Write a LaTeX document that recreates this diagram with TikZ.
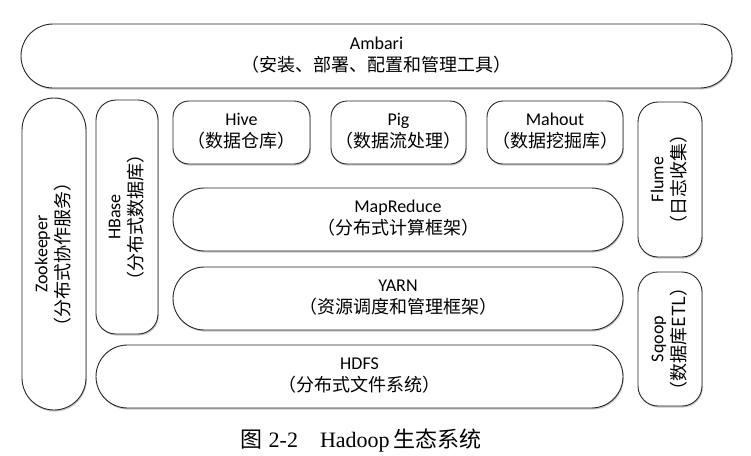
\documentclass[tikz,border=0pt]{standalone}
\usepackage{fontspec}
\setmainfont{Carlito}
\newfontfamily\cjk{Noto Sans CJK SC}
\newfontfamily\capserif{Liberation Serif}
\usetikzlibrary{shadows}
\newcommand\twoline[2]{\begin{tabular}{@{}c@{}}#1\\{\cjk #2}\end{tabular}}
\newcommand\vtwoline[2]{\rotatebox{90}{\twoline{#1}{#2}}}
\begin{document}
\begin{tikzpicture}[x=1pt,y=-1pt,
  box/.style={draw=black!85, line width=0.9pt, fill=white, align=center,
    inner sep=0pt, font=\fontsize{18}{22}\selectfont,
    drop shadow={shadow xshift=0.8pt, shadow yshift=-1.6pt, opacity=0.35, fill=black!60}},
  capnode/.style={inner sep=0pt, font=\fontsize{22}{24}\selectfont}]
\useasboundingbox (0,0) rectangle (751,455);
\fill[white] (0,0) rectangle (751,455);

\node[box, minimum width=711pt, minimum height=64pt, rounded corners=32pt] (ambari) at (376.5,56)
  {\twoline{Ambari}{（安装、部署、配置和管理工具）}};

\node[box, minimum width=64pt, minimum height=312pt, rounded corners=32pt] (zk) at (54,254)
  {\vtwoline{Zookeeper}{（分布式协作服务）}};

\node[box, minimum width=62pt, minimum height=234pt, rounded corners=20pt] (hbase) at (127,217)
  {\vtwoline{HBase}{（分布式数据库）}};

\node[box, minimum width=137pt, minimum height=63pt, rounded corners=16pt] (hive) at (241.5,132.5)
  {\twoline{Hive}{（数据仓库）}};
\node[box, minimum width=135pt, minimum height=63pt, rounded corners=16pt] (pig) at (398.5,132.5)
  {\twoline{Pig}{（数据流处理）}};
\node[box, minimum width=136pt, minimum height=63pt, rounded corners=16pt] (mahout) at (555,132.5)
  {\twoline{Mahout}{（数据挖掘库）}};

\node[box, minimum width=450pt, minimum height=63pt, rounded corners=31.5pt] (mr) at (398,219.5)
  {\twoline{MapReduce}{（分布式计算框架）}};
\node[box, minimum width=450pt, minimum height=63pt, rounded corners=31.5pt] (yarn) at (398,298.5)
  {\twoline{YARN}{（资源调度和管理框架）}};
\node[box, minimum width=527pt, minimum height=63pt, rounded corners=31.5pt] (hdfs) at (359.5,376.5)
  {\twoline{HDFS}{（分布式文件系统）}};

\node[box, minimum width=64pt, minimum height=155pt, rounded corners=20pt] (flume) at (670,179.5)
  {\vtwoline{Flume}{（日志收集）}};
\node[box, minimum width=64pt, minimum height=134pt, rounded corners=20pt] (sqoop) at (670,339)
  {\vtwoline{Sqoop}{（数据库ETL）}};

\node[capnode] (caption) at (361,441)
  {{\cjk 图}\;{\capserif 2-2}\hspace{1em}{\capserif Hadoop}\,{\cjk 生态系统}};
\end{tikzpicture}
\end{document}
